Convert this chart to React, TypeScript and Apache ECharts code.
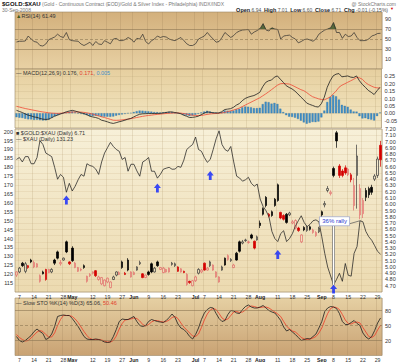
import React, { useEffect, useRef } from 'react';
import * as echarts from 'echarts';

const FONT = 'Liberation Sans, Arial, sans-serif';
const HOLIDAYS = ['2008-05-26', '2008-07-04', '2008-09-01'];

function buildDates(start: [number, number, number], end: [number, number, number]): string[] {
  const out: string[] = [];
  const d = new Date(Date.UTC(start[0], start[1] - 1, start[2]));
  const e = Date.UTC(end[0], end[1] - 1, end[2]);
  while (d.getTime() <= e) {
    const wd = d.getUTCDay();
    const s = d.toISOString().slice(0, 10);
    if (wd !== 0 && wd !== 6 && !HOLIDAYS.includes(s)) out.push(s);
    d.setUTCDate(d.getUTCDate() + 1);
  }
  return out;
}
const DATES = buildDates([2008, 4, 4], [2008, 9, 30]);

const X_TICKS: [string, string][] = [
  ['2008-04-07', '7'], ['2008-04-14', '14'], ['2008-04-21', '21'], ['2008-04-28', '28'],
  ['2008-05-01', 'May'], ['2008-05-12', '12'], ['2008-05-19', '19'], ['2008-05-27', '27'],
  ['2008-06-02', 'Jun'], ['2008-06-09', '9'], ['2008-06-16', '16'], ['2008-06-23', '23'],
  ['2008-07-01', 'Jul'], ['2008-07-07', '7'], ['2008-07-14', '14'], ['2008-07-21', '21'], ['2008-07-28', '28'],
  ['2008-08-01', 'Aug'], ['2008-08-11', '11'], ['2008-08-18', '18'], ['2008-08-25', '25'],
  ['2008-09-02', 'Sep'], ['2008-09-08', '8'], ['2008-09-15', '15'], ['2008-09-22', '22'], ['2008-09-29', '29'],
];
const MONTHS = ['May', 'Jun', 'Jul', 'Aug', 'Sep'];

// $XAU close (left axis)
const XAU = [184.4,185.5,183,186,186,182,182,185.5,195,192.8,
188,187,186,180,173.3,176,174.4,166,171,166.7,
169.4,173,176,175,182,181,180.5,179,176,183,
188,191,194,191.7,190,189,184.4,185.5,177.8,181.7,
181.7,178,175,183,184,185.5,177.8,177.8,173.9,176,
178.9,179.5,180,178.9,179,180.5,180,184,190,191.5,
192.8,197,190,189,185.5,182.8,184.4,190,196,200.5,
192.8,190,189,191.7,183,175,174,172.2,173,174.4,
171,169.4,170.6,162.2,158,155.6,152.2,144,140,138.3,
142.8,144.4,138.3,140,142.8,147,150,152.8,149,146.7,
148,150,150.5,149.4,141,131.7,124,119,114,117,
120.5,116,126,119.4,118.9,131.7,135.5,150,149.4,144,
141,139,136,132.8,131.23];

// $GOLD:$XAU candles (right axis)
const OPEN = [4.87,4.92,5.06,4.93,5.02,5.11,5.00,5.00,4.77,4.92,
4.96,4.91,4.92,5.11,5.24,5.05,5.11,5.40,5.08,5.30,
4.99,4.93,4.95,5.02,4.77,4.86,4.90,4.94,4.80,4.73,
4.70,4.76,4.67,4.80,4.87,4.88,5.08,4.90,5.11,4.84,
4.88,4.95,5.05,4.89,4.83,4.92,5.05,4.92,5.08,4.96,
4.91,4.92,4.92,5.04,5.02,5.00,4.92,4.93,4.72,4.77,
4.70,4.78,4.90,4.92,5.06,4.95,5.02,4.95,4.84,4.76,
4.95,5.14,5.12,5.10,4.99,5.22,5.40,5.38,5.42,5.39,
5.51,5.41,5.43,5.70,5.93,6.11,5.84,5.88,6.08,6.31,
5.87,5.82,5.84,5.83,5.70,5.62,5.62,5.40,5.63,5.58,
5.64,5.55,5.50,5.56,5.88,5.99,6.22,6.17,6.57,7.14,
6.61,6.53,6.58,6.47,6.47,5.98,6.46,5.83,5.85,6.22,
6.25,6.27,6.40,6.46,6.94];
const CLOSE = [4.92,4.98,5.02,5.05,4.99,5.08,5.07,5.05,4.86,4.89,
4.80,4.96,4.96,5.06,5.14,5.07,5.14,5.24,5.05,5.10,
5.06,4.99,4.96,4.99,4.85,4.88,4.92,4.86,4.84,4.83,
4.79,4.82,4.76,4.84,4.92,4.91,4.99,4.88,4.95,4.92,
4.91,5.00,5.07,4.83,4.87,4.88,4.92,4.98,5.02,4.99,
4.98,4.96,4.98,5.06,5.05,4.93,4.97,4.91,4.88,4.75,
4.78,4.84,4.96,4.95,4.95,4.98,5.08,5.03,4.92,4.84,
5.00,5.03,5.18,5.12,5.03,5.11,5.25,5.40,5.43,5.40,
5.46,5.30,5.48,5.66,5.84,5.98,5.81,5.82,5.98,6.06,
5.78,5.76,5.71,5.86,5.72,5.74,5.58,5.51,5.59,5.64,
5.60,5.59,5.55,5.62,5.83,6.01,6.25,6.19,6.46,7.01,
6.46,6.46,6.50,6.56,6.39,6.30,6.77,6.25,6.06,6.11,
6.15,6.19,6.45,6.72,6.71];
const HIGH = [4.93,5.00,5.08,5.08,5.03,5.13,5.10,5.06,4.88,4.94,
4.97,4.97,4.98,5.13,5.26,5.11,5.15,5.42,5.09,5.33,
5.08,5.00,4.98,5.04,4.86,4.90,4.93,4.95,4.86,4.84,
4.80,4.83,4.77,4.86,4.93,4.93,5.10,4.92,5.14,4.93,
4.93,5.01,5.10,4.90,4.88,4.94,5.07,5.00,5.10,5.00,
5.00,4.97,4.99,5.08,5.07,5.01,4.98,4.94,4.90,4.78,
4.79,4.86,4.98,4.97,5.07,5.00,5.10,5.04,4.93,4.85,
5.02,5.15,5.20,5.14,5.05,5.24,5.42,5.43,5.45,5.42,
5.53,5.42,5.50,5.74,5.95,6.13,5.86,5.90,6.10,6.33,
5.88,5.84,5.86,5.88,5.75,5.76,5.64,5.52,5.65,5.66,
5.66,5.61,5.57,5.64,5.90,6.05,6.29,6.22,6.60,7.17,
6.64,6.56,6.62,6.58,6.50,6.42,6.95,6.32,6.10,6.26,
6.28,6.31,6.48,6.76,7.01];
const LOW = [4.84,4.90,5.00,4.90,4.97,5.06,4.98,4.99,4.75,4.88,
4.78,4.90,4.90,5.03,5.12,5.02,5.10,5.22,5.03,5.08,
4.98,4.92,4.93,4.97,4.75,4.84,4.88,4.84,4.78,4.71,
4.69,4.74,4.66,4.79,4.85,4.87,4.97,4.87,4.93,4.83,
4.87,4.94,5.03,4.82,4.82,4.86,4.90,4.91,5.00,4.95,
4.90,4.91,4.91,5.02,5.00,4.92,4.91,4.90,4.70,4.73,
4.69,4.76,4.88,4.90,4.94,4.94,5.00,4.94,4.83,4.75,
4.94,5.02,5.10,5.08,4.98,5.10,5.23,5.36,5.40,5.37,
5.44,5.28,5.42,5.62,5.82,5.95,5.79,5.80,5.96,6.04,
5.76,5.74,5.69,5.81,5.68,5.60,5.56,5.38,5.57,5.56,
5.58,5.53,5.48,5.54,5.79,5.95,6.19,6.14,6.43,6.90,
6.42,6.43,6.47,6.45,6.35,5.90,5.93,5.76,5.78,6.05,
6.10,6.15,6.37,6.42,6.60];
// 1 = red candle (close below previous close)
const RED = [1,0,0,0,1,0,1,1,1,0,
1,1,0,0,0,1,0,0,1,0,
1,1,1,0,1,1,1,1,1,1,
1,1,1,0,0,1,0,1,0,1,
1,0,0,1,1,0,0,0,0,1,
1,1,1,0,0,1,1,1,1,1,
1,1,0,1,1,1,0,1,1,1,
0,0,1,0,1,0,0,0,0,1,
0,1,0,0,0,0,1,0,0,0,
1,1,0,0,1,1,1,1,0,0,
0,1,1,0,0,0,0,1,0,0,
1,1,1,1,1,1,0,1,1,0,
0,0,0,0,1];

const RSI = [44,45.5,45.5,46,56,50,45,43.6,37,36,
40,48.7,51.3,54,59.6,55,53,63,48.7,46.7,
46,45.5,40,37,40,43.6,37,45,40,39,
46.7,43.6,40.4,50,51.3,47,46.7,48.7,53,50,
43.6,51.3,50,59.6,45,40,46.7,50,56,53,
55,54,50,48,46.7,50,53,47,40.4,37,
37,40.4,50,53,56,63,56,50,43.6,45,
53,63,58,53,57,63,66,68,68.5,69,
59.6,64,67,71,80.8,68,66,72.5,70,69,
50,56,57,57.7,53,50,42.3,45,48.7,50,
48,45.5,50,59.6,64,68,70,72.5,83,63,
63,51.3,59.6,55,56,63,53,46.7,46.7,47,
50,56,58,61,61.49];

const MACD = [0.02,0.012,0.005,-0.005,-0.013,-0.018,-0.025,-0.028,-0.035,-0.04,
-0.042,-0.04,-0.03,-0.02,-0.013,-0.005,0.002,0.01,0.015,0.02,
0.015,0.009,0.003,-0.002,-0.01,-0.02,-0.025,-0.029,-0.035,-0.047,
-0.052,-0.058,-0.065,-0.069,-0.064,-0.058,-0.053,-0.047,-0.04,-0.035,
-0.025,-0.015,-0.007,-0.004,-0.003,-0.002,-0.002,-0.002,-0.001,-0.001,
0.002,0.005,0.009,0.009,0.005,0.002,-0.003,-0.013,-0.02,-0.029,
-0.028,-0.025,-0.02,-0.01,0.0,0.009,0.007,0.003,0.002,0.002,
0.01,0.025,0.028,0.031,0.04,0.055,0.065,0.085,0.1,0.109,
0.115,0.12,0.13,0.142,0.18,0.209,0.22,0.225,0.245,0.253,
0.231,0.21,0.187,0.175,0.165,0.15,0.131,0.11,0.091,0.069,
0.06,0.053,0.045,0.042,0.065,0.109,0.176,0.22,0.253,0.265,
0.269,0.247,0.25,0.253,0.245,0.242,0.253,0.22,0.195,0.176,
0.155,0.142,0.127,0.153,0.176];
const SIGNAL = [0.047,0.042,0.037,0.032,0.028,0.024,0.02,0.016,0.012,0.009,
0.006,0.003,0.001,0,-0.001,0,0.002,0.004,0.006,0.008,
0.009,0.009,0.008,0.006,0.003,-0.001,-0.006,-0.012,-0.018,-0.024,
-0.029,-0.035,-0.041,-0.047,-0.048,-0.047,-0.045,-0.042,-0.04,-0.037,
-0.033,-0.029,-0.025,-0.021,-0.018,-0.015,-0.013,-0.01,-0.008,-0.006,
-0.004,-0.002,0,0.001,0.002,0.002,0.001,-0.002,-0.005,-0.01,
-0.013,-0.015,-0.016,-0.015,-0.012,-0.008,-0.005,-0.003,-0.002,0,
0.002,0.006,0.011,0.016,0.022,0.028,0.035,0.045,0.055,0.065,
0.075,0.085,0.095,0.105,0.118,0.131,0.145,0.16,0.175,0.19,
0.2,0.202,0.2,0.198,0.19,0.18,0.17,0.16,0.153,0.14,
0.125,0.112,0.105,0.098,0.093,0.091,0.1,0.11,0.13,0.15,
0.176,0.19,0.2,0.21,0.22,0.23,0.242,0.24,0.23,0.209,
0.195,0.185,0.176,0.172,0.171];

const STO_K = [28,20,17,20,25,30,38,43,38,34,
22,25,33,48,68,70,71,70,70,64,
56,48,38,28,23,22,22,23,22,20,
17,16,17,28,42,58,63,62,62,65,
68,58,50,48,50,58,62,60,58,57,
56,60,66,73,66,53,45,42,36,28,
23,32,45,62,75,82,86,85,74,64,
58,60,72,80,79,75,74,82,88,91,
87,85,85,87,90,85,80,77,75,68,
60,47,39,42,37,32,26,20,22,24,
23,28,33,45,58,78,85,88,87,84,
74,58,52,52,56,60,54,50,35,27,
23,28,40,55,65.06];
const STO_D = [32,26,22,19,20,25,31,37,40,38,
32,27,27,35,50,62,70,70,70,68,
63,56,47,38,30,24,22,22,22,21,
19,17,17,20,29,43,54,61,62,63,
65,64,59,52,49,52,57,60,60,58,
57,58,61,66,68,64,55,47,41,35,
29,28,33,46,61,73,81,84,82,74,
65,61,63,70,77,78,76,77,81,87,
89,88,86,86,87,87,85,81,77,73,
68,58,49,43,39,37,32,26,23,22,
23,25,28,35,45,60,74,84,87,86,
82,72,61,54,53,56,57,55,46,37,
28,26,30,41,50.46];

// blue arrows: [date, $XAU-axis value]
const ARROWS: [string, number][] = [
  ['2008-04-29', 161.6], ['2008-06-12', 168.4], ['2008-07-09', 175.4], ['2008-08-11', 131.0], ['2008-09-08', 111.7],
];
// "36% rally" from low to high
const RALLY_FROM = '2008-09-08';
const RALLY_TO = '2008-09-19';

const tickMap = new Map(X_TICKS);
const tickIdx = (i: number) => tickMap.has(DATES[i]);

function grad(c1: string, c2: string) {
  return { type: 'linear', x: 0, y: 0, x2: 0, y2: 1, colorStops: [{ offset: 0, color: c1 }, { offset: 1, color: c2 }] };
}

export default function App() {
  const ref = useRef<HTMLDivElement>(null);
  useEffect(() => {
    document.body.style.margin = '0';
    const chart = echarts.init(ref.current!, undefined, { renderer: 'svg' });
    const L = 15, R = 18;
    const grids: any[] = [
      { left: L, right: R, top: 12, height: 57, backgroundColor: grad('#d3b07c', '#e8d1a4') },
      { left: L, right: R, top: 69, height: 59, backgroundColor: grad('#e6cf9f', '#f4e8c4') },
      { left: L, right: R, top: 129, height: 163, backgroundColor: grad('#f7f0d8', '#ecdab0') },
      { left: L, right: R, top: 298, height: 58, backgroundColor: grad('#e6d0a3', '#c9a273') },
    ].map((g) => ({ ...g, show: true, borderColor: '#9c8864', borderWidth: 0.6 }));
    // helper strip that only carries the date labels under the price panel
    grids.push({ left: L, right: R, top: 291.5, height: 0.5, show: false });

    const xLabel = {
      show: true, interval: (i: number) => tickIdx(i), margin: 1.5, fontSize: 5.2, color: '#333', fontFamily: FONT,
      showMinLabel: true, hideOverlap: false,
      formatter: (v: string) => { const t = tickMap.get(v) || ''; return MONTHS.includes(t) ? '{b|' + t + '}' : t; },
      rich: { b: { fontWeight: 'bold', fontSize: 5.2, color: '#222', fontFamily: FONT } },
    };
    const xAxes: any[] = [0, 1, 2, 3].map((gi) => ({
      type: 'category', gridIndex: gi, data: DATES, boundaryGap: true,
      axisLine: { show: false }, axisTick: { show: false },
      axisLabel: gi === 3 ? xLabel : { show: false },
      splitLine: { show: true, interval: (i: number) => tickIdx(i), lineStyle: { color: gi === 0 || gi === 3 ? 'rgba(150,120,80,0.35)' : 'rgba(170,145,100,0.35)', width: 0.6 } },
    }));
    xAxes.push({ type: 'category', gridIndex: 4, data: DATES, boundaryGap: true, axisLine: { show: false }, axisTick: { show: false },
      axisLabel: { ...xLabel, margin: 2 }, splitLine: { show: false } });

    const yLab = (fmt: (v: number) => string) => ({ fontSize: 5.5, color: '#333', fontFamily: FONT, margin: 3, formatter: fmt });
    const yAxes = [
      { type: 'value', gridIndex: 0, position: 'right', min: -10, max: 104, interval: 20, axisLine: { show: false }, axisTick: { show: false },
        axisLabel: yLab((v) => (v < 0 || v > 100 ? '' : String(v))), splitLine: { show: false } },
      { type: 'value', gridIndex: 1, position: 'right', min: -0.1, max: 0.3, interval: 0.05, axisLine: { show: false }, axisTick: { show: false },
        axisLabel: yLab((v) => (v > 0.28 || v < -0.08 ? '' : v.toFixed(2))), splitLine: { show: true, lineStyle: { color: 'rgba(170,145,100,0.3)', width: 0.5 } } },
      { type: 'value', gridIndex: 2, position: 'left', min: 110, max: 201.5, interval: 5, axisLine: { show: false }, axisTick: { show: false },
        axisLabel: { ...yLab((v) => (v < 112 || v > 201 ? '' : String(v))), margin: 2, showMinLabel: false, showMaxLabel: false }, splitLine: { show: false } },
      { type: 'value', gridIndex: 2, position: 'right', min: 4.6, max: 7.2, interval: 0.1, axisLine: { show: false }, axisTick: { show: false },
        axisLabel: { ...yLab((v) => (v < 4.65 ? '' : v.toFixed(2))), showMinLabel: false }, splitLine: { show: true, lineStyle: { color: 'rgba(190,165,115,0.35)', width: 0.5 } } },
      { type: 'value', gridIndex: 3, position: 'right', min: -10, max: 105, interval: 30, axisLine: { show: false }, axisTick: { show: false },
        axisLabel: yLab((v) => (v < 0 || v > 100 ? '' : String(v))), splitLine: { show: false } },
      { type: 'value', gridIndex: 4, show: false, min: 0, max: 1 },
    ];

    const hLines = (hi: number, lo: number) => ({
      silent: true, symbol: ['none', 'none'], label: { show: false },
      data: [
        { yAxis: hi, lineStyle: { color: '#8c7653', width: 0.6, type: 'solid' } },
        { yAxis: lo, lineStyle: { color: '#8c7653', width: 0.6, type: 'solid' } },
        { yAxis: 50, lineStyle: { color: '#8c7653', width: 0.6, type: [3, 2] } },
      ],
    });

    const candles = DATES.map((_, i) => {
      const up = CLOSE[i] > OPEN[i];
      const red = RED[i] === 1;
      const border = red ? (up ? '#e26b6b' : '#d40000') : (up ? '#3a3a3a' : '#000');
      const fill = up ? 'rgba(0,0,0,0)' : (red ? '#d40000' : '#000');
      return { value: [OPEN[i], CLOSE[i], LOW[i], HIGH[i]], itemStyle: { color: fill, color0: fill, borderColor: border, borderColor0: border, borderWidth: 0.7 } };
    });

    const series: any[] = [
      { type: 'line', xAxisIndex: 0, yAxisIndex: 0, data: RSI.map((v) => Math.max(v, 70)), symbol: 'none', z: 1,
        lineStyle: { width: 0, opacity: 0 }, areaStyle: { origin: 70, color: '#56683a', opacity: 1 } },
      { type: 'line', xAxisIndex: 0, yAxisIndex: 0, data: RSI, symbol: 'none', z: 3, lineStyle: { color: '#2b2b2b', width: 0.7 }, markLine: hLines(70, 30) },
      { type: 'bar', xAxisIndex: 1, yAxisIndex: 1, data: MACD.map((m, i) => +(m - SIGNAL[i]).toFixed(4)), barWidth: 2,
        itemStyle: { color: '#3f8ec8', borderColor: '#2c6e9e', borderWidth: 0.3 } },
      { type: 'line', xAxisIndex: 1, yAxisIndex: 1, data: MACD, symbol: 'none', z: 4, lineStyle: { color: '#1e1e1e', width: 0.8 } },
      { type: 'line', xAxisIndex: 1, yAxisIndex: 1, data: SIGNAL, symbol: 'none', z: 3, lineStyle: { color: '#ef4a36', width: 0.8 } },
      { type: 'candlestick', xAxisIndex: 2, yAxisIndex: 3, data: candles, barWidth: 2, z: 3 },
      { type: 'line', xAxisIndex: 2, yAxisIndex: 2, data: XAU, symbol: 'none', z: 4, lineStyle: { color: '#222', width: 0.75 } },
      { type: 'scatter', xAxisIndex: 2, yAxisIndex: 2, data: ARROWS.map(([d, v]) => [d, v]), z: 6,
        symbol: 'path://M5,0 L10,5 L7,5 L7,10 L3,10 L3,5 L0,5 Z', symbolSize: [7, 9], itemStyle: { color: '#0b22ff' } },
      { type: 'line', xAxisIndex: 3, yAxisIndex: 4, data: STO_D, symbol: 'none', z: 3, lineStyle: { color: '#ef3b26', width: 0.8 } },
      { type: 'line', xAxisIndex: 3, yAxisIndex: 4, data: STO_K, symbol: 'none', z: 4, lineStyle: { color: '#1c1c1c', width: 0.8 }, markLine: hLines(80, 20) },
    ];

    chart.setOption({
      animation: false,
      textStyle: { fontFamily: FONT },
      grid: grids, xAxis: xAxes, yAxis: yAxes, series,
    });

    const iFrom = DATES.indexOf(RALLY_FROM);
    const iTo = DATES.indexOf(RALLY_TO);
    const pMin = chart.convertToPixel({ seriesIndex: 6 }, [iFrom, XAU[iFrom]]) as number[];
    const pPeak = chart.convertToPixel({ seriesIndex: 6 }, [iTo, XAU[iTo]]) as number[];
    const bw = 30, bh = 9;
    const bx = pMin[0] - 14, by = pPeak[1] - 4;

    const txt = (left: number, top: number, text: string, extra: any = {}) => ({
      type: 'text', left, top, silent: true,
      style: { text, fontSize: 5.5, fontFamily: FONT, fill: '#444', ...extra },
    });
    const rich = {
      b: { fontWeight: 'bold', fontSize: 5.5, fontFamily: FONT, fill: '#222' },
      r: { fontSize: 5.5, fontFamily: FONT, fill: '#e2402c' },
      bl: { fontSize: 5.5, fontFamily: FONT, fill: '#3f8ec8' },
      g: { fontSize: 5.5, fontFamily: FONT, fill: '#3f5a1e' },
    };

    chart.setOption({
      graphic: [
        txt(2, 1.2, '$GOLD:$XAU', { fontWeight: 'bold', fontSize: 6, fill: '#111' }),
        txt(42, 1.8, '(Gold - Continuous Contract (EOD)/Gold & Silver Index - Philadelphia) INDX/INDX', { fill: '#777', fontSize: 5 }),
        txt(2, 7, '30-Sep-2008', { fill: '#777', fontSize: 5 }),
        { type: 'text', right: 4, top: 1, silent: true, style: { text: '@ StockCharts.com', fontSize: 5, fontFamily: FONT, fill: '#777' } },
        { type: 'text', right: 12, top: 6.5, silent: true, style: { text: '{b|Open} 6.94  {b|High} 7.01  {b|Low} 6.60  {b|Close} 6.71  {b|Chg} -0.01 (-0.15%)', rich, fontSize: 5, fontFamily: FONT, fill: '#555' } },
        { type: 'text', right: 6, top: 6.5, silent: true, style: { text: '▼', fontSize: 4, fill: '#d40000' } },
        { type: 'text', left: 16, top: 13, silent: true, style: { text: '{g|▲}RSI(14) 61.49', rich, fontSize: 5.5, fontFamily: FONT, fill: '#333' } },
        { type: 'text', left: 16, top: 70, silent: true, style: { text: '— MACD(12,26,9) 0.176, {r|0.171}, {bl|0.005}', rich, fontSize: 5.5, fontFamily: FONT, fill: '#333' } },
        { type: 'text', left: 16, top: 130, silent: true, style: { text: '■ $GOLD:$XAU (Daily) 6.71', fontSize: 5.5, fontFamily: FONT, fill: '#333' } },
        { type: 'text', left: 16, top: 135.5, silent: true, style: { text: '— $XAU (Daily) 131.23', fontSize: 5.5, fontFamily: FONT, fill: '#333' } },
        { type: 'text', left: 16, top: 299.5, silent: true, style: { text: '— Slow STO %K(14) %D(3) 65.06, {r|50.46}', rich, fontSize: 5.5, fontFamily: FONT, fill: '#333' } },
        // rally annotation
        { type: 'line', silent: true, z: 50, shape: { x1: pMin[0], y1: pMin[1], x2: pMin[0], y2: by + bh }, style: { stroke: '#7a7a7a', lineWidth: 2.6 } },
        { type: 'line', silent: true, z: 51, shape: { x1: pMin[0], y1: pMin[1], x2: pMin[0], y2: by + bh }, style: { stroke: '#ffffff', lineWidth: 1.2 } },
        { type: 'line', silent: true, z: 50, shape: { x1: bx + bw, y1: by + bh - 2, x2: pPeak[0], y2: pPeak[1] }, style: { stroke: '#555', lineWidth: 0.7 } },
        { type: 'rect', silent: true, z: 52, shape: { x: bx, y: by, width: bw, height: bh }, style: { fill: '#ffffff', stroke: '#8a96c8', lineWidth: 0.6 } },
        { type: 'text', silent: true, z: 53, x: bx + bw / 2, y: by + bh / 2, style: { text: '36% rally', fontSize: 6, fontFamily: FONT, fill: '#2a35d0', align: 'center', verticalAlign: 'middle' } },
      ],
    });

    return () => chart.dispose();
  }, []);
  return <div ref={ref} style={{ width: 400, height: 362 }} />;
}
